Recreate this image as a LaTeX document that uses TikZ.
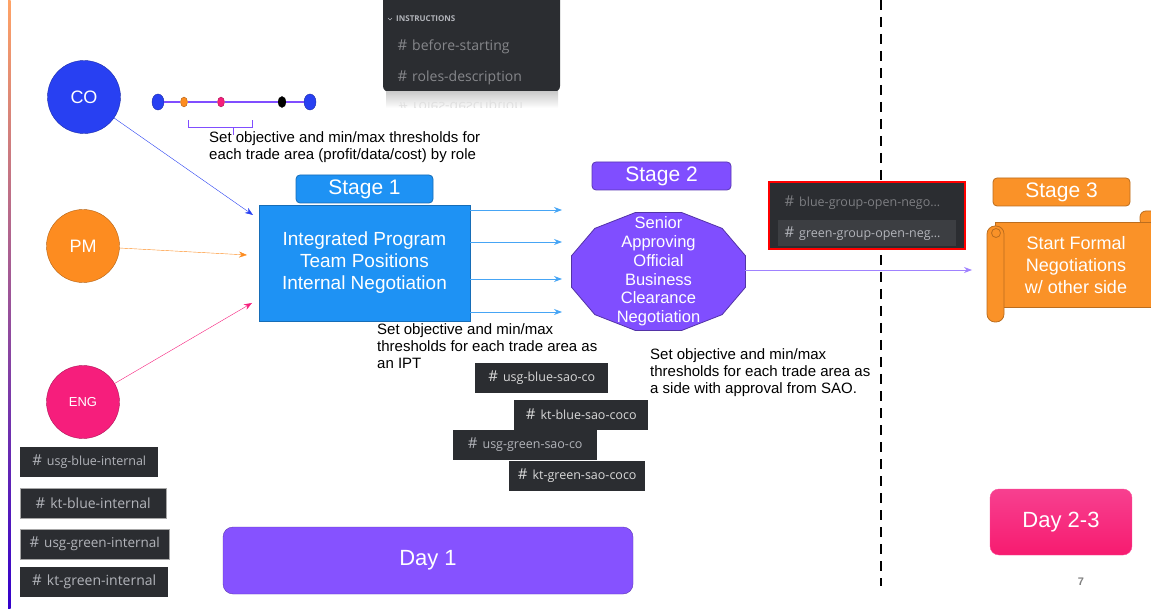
\documentclass[tikz,border=0pt]{standalone}
\usepackage{fontspec}
\setmainfont{Liberation Sans}
\newfontfamily\discord{Open Sans}
\usetikzlibrary{arrows.meta,shapes.geometric}

\definecolor{coblue}{RGB}{40,64,242}
\definecolor{pmorange}{RGB}{253,140,32}
\definecolor{engpink}{RGB}{246,30,124}
\definecolor{stblue}{RGB}{30,146,244}
\definecolor{stpurple}{RGB}{128,78,255}
\definecolor{storange}{RGB}{250,146,40}
\definecolor{dayviolet}{RGB}{134,82,255}
\definecolor{dark}{RGB}{43,45,49}
\definecolor{chan}{RGB}{178,180,186}
\definecolor{arrowblue}{RGB}{70,165,245}
\definecolor{arrowviolet}{RGB}{160,130,255}

\newcommand{\chanhash}{{\fontsize{15}{15}\selectfont\#}\hspace{5pt}}

\tikzset{
  role/.style={circle, minimum size=73pt, inner sep=0pt, text=white, draw=#1!70!black, fill=#1},
  dot/.style={ellipse, inner sep=0pt, fill=#1, draw=#1!70!black},
  stagelbl/.style={rounded corners=4pt, minimum height=28pt, text=white, line width=0.8pt,
    font=\fontsize{21}{24}\selectfont},
  chantag/.style={fill=dark, text=chan, anchor=west, minimum height=30pt, inner xsep=7pt,
    font=\discord\fontsize{12.5}{14}\selectfont},
  note/.style={align=left, anchor=north west, inner sep=0pt, font=\fontsize{15}{17}\selectfont},
}

\begin{document}
\begin{tikzpicture}[x=1pt,y=-1pt,>={Stealth[length=8pt,width=6pt]}]
  \useasboundingbox (0,0) rectangle (1151,609);
  \shade[top color=orange!80!red!60, bottom color=blue!60!violet] (8,0) rectangle (10.5,609);

  \node[role=coblue, font=\fontsize{18}{20}\selectfont] (co) at (84,97) {CO};
  \node[role=pmorange, font=\fontsize{18}{20}\selectfont] (pm) at (83,246) {PM};
  \node[role=engpink, font=\fontsize{13}{15}\selectfont] (eng) at (83,402) {ENG};

  \node[dot=coblue, minimum width=12pt, minimum height=16pt] (k1) at (158,102) {};
  \node[dot=pmorange, minimum width=7pt, minimum height=10pt] (k2) at (184,102) {};
  \node[dot=engpink, minimum width=7pt, minimum height=10pt] (k3) at (221,102) {};
  \node[dot=black, minimum width=8pt, minimum height=11pt] (k4) at (282,102) {};
  \node[dot=coblue, minimum width=12pt, minimum height=16pt] (k5) at (310,102) {};
  \draw[stpurple, line width=1.2pt] (k1) -- (k2);
  \draw[stpurple, line width=1.2pt] (k2) -- (k3);
  \draw[stpurple, line width=1.2pt] (k3) -- (k4);
  \draw[stpurple, line width=1.2pt] (k4) -- (k5);
  \draw[stpurple, line width=1pt] (188,120) -- (188,128) -- (252,128) -- (252,120);
  \draw[stpurple, line width=1pt] (233,128) -- (233,135);
  \node[note] (n1) at (209,131) {Set objective and min/max thresholds for\\each trade area (profit/data/cost) by role};

  \fill[dark, rounded corners=6pt] (383,-8) rectangle (560,92);
  \shade[top color=black!20, bottom color=white] (386,92) rectangle (558,108);
  \begin{scope}
    \clip (386,92) rectangle (558,108);
    \node[anchor=west, yscale=-1, transform shape, text=black!12, font=\discord\fontsize{14}{16}\selectfont] (rdm) at (395,106) {\chanhash roles-description};
  \end{scope}
  \draw[chan, line width=0.6pt] (388,18) -- (390,20) -- (392,18);
  \node[anchor=west, text=chan, inner sep=0pt, font=\discord\bfseries\fontsize{8}{9}\selectfont] (ins) at (396,19) {INSTRUCTIONS};
  \node[anchor=west, text=chan!75!black, font=\discord\fontsize{14}{16}\selectfont] (bs) at (394,47) {\chanhash before-starting};
  \node[anchor=west, text=chan!75!black, font=\discord\fontsize{14}{16}\selectfont] (rd) at (394,78) {\chanhash roles-description};

  \node[stagelbl, fill=stblue, draw=stblue!75!black, minimum width=137pt] (s1) at (364.5,189) {Stage 1};
  \node[fill=stblue, draw=stblue!75!black, line width=0.8pt, minimum width=211pt, minimum height=116pt,
    text=white, align=center, font=\fontsize{19}{22}\selectfont] (ipt) at (364.5,263) {Integrated Program\\Team Positions\\Internal Negotiation};

  \coordinate (inco) at (253,215);
  \coordinate (inpm) at (247,255);
  \coordinate (ineng) at (252,303);
  \draw[->, coblue] (co) -- (inco);
  \draw[->, pmorange] (pm) -- (inpm);
  \draw[->, engpink] (eng) -- (ineng);

  \foreach \yy [count=\i] in {210,242,279,312}{
    \coordinate (out\i) at (562,\yy);
    \draw[->, arrowblue, line width=0.8pt] (ipt.east |- out\i) -- (out\i);
  }
  \node[note] (n2) at (377,323) {Set objective and min/max\\thresholds for each trade area as\\an IPT};

  \node[chantag, text=white!85!black, minimum width=133pt] (ubs) at (475,378) {\chanhash usg-blue-sao-co};
  \node[chantag, text=white!85!black, minimum width=134pt] (kbs) at (514,414.5) {\chanhash kt-blue-sao-coco};
  \node[chantag, minimum width=144pt] (ugs) at (453,445) {\chanhash usg-green-sao-co};
  \node[chantag, text=white!85!black, minimum width=136pt] (kgs) at (509,475.5) {\chanhash kt-green-sao-coco};

  \node[stagelbl, fill=stpurple, draw=stpurple!70!black, minimum width=139pt] (s2) at (661.5,176) {Stage 2};
  \coordinate (saoc) at (658.5,271.5);
  \draw[fill=stpurple, draw=stpurple!65!black, line width=0.8pt, shift={(saoc)}]
    (15:90 and 61) \foreach \a in {45,75,...,345}{ -- (\a:90 and 61)} -- cycle;
  \node[text=white, align=center, minimum width=173pt, minimum height=117pt,
    font=\fontsize{16.5}{18.8}\selectfont] (sao) at (saoc) {Senior\\Approving\\Official\\Business\\Clearance\\Negotiation};
  \node[note] (n3) at (650,348) {Set objective and min/max\\thresholds for each trade area as\\a side with approval from SAO.};

  \draw[line width=2.5pt, dash pattern=on 10pt off 7pt] (881,0) -- (881,586);

  \coordinate (into3) at (972,270);
  \draw[->, arrowviolet, line width=0.8pt] (sao.east |- into3) -- (into3);

  \node[draw=red, line width=2.5pt, fill=dark, minimum width=196pt, minimum height=67pt] (grp) at (867,215.5) {};
  \fill[dark!92!white] (778,220) rectangle (956,246);
  \node[anchor=west, text=chan!70!black, font=\discord\fontsize{12.5}{14}\selectfont] (bgo) at (781,203) {\chanhash blue-group-open-nego\dots};
  \node[anchor=west, text=chan, font=\discord\fontsize{12.5}{14}\selectfont] (ggo) at (781,234) {\chanhash green-group-open-neg\dots};

  \node[stagelbl, fill=storange, draw=storange!75!black, minimum width=137pt] (s3) at (1061.5,192) {Stage 3};
  \draw[fill=storange, draw=storange!75!black, line width=0.8pt, rounded corners=6pt] (1140,226) rectangle (1158,211);
  \draw[fill=storange, draw=storange!75!black, line width=0.8pt] (995,222) rectangle (1160,307);
  \draw[fill=storange, draw=storange!75!black, line width=0.8pt, rounded corners=8pt] (987,226) rectangle (1004,322);
  \draw[fill=storange, draw=storange!75!black, line width=0.8pt] (996,233) circle (4.5pt);
  \node[text=white, align=center, font=\fontsize{18}{22}\selectfont] (formal) at (1076,265) {Start Formal\\Negotiations\\w/ other side};

  \node[chantag, minimum width=138pt] (ubi) at (20,462) {\chanhash usg-blue-internal};
  \node[chantag, draw=gray!70, minimum width=146pt, font=\discord\fontsize{14}{16}\selectfont] (kbi) at (20,503) {\chanhash kt-blue-internal};
  \node[chantag, draw=gray!70, minimum width=149pt, font=\discord\fontsize{13.5}{16}\selectfont] (ugi) at (20,544) {\chanhash usg-green-internal};
  \node[chantag, minimum width=148pt, font=\discord\fontsize{14}{16}\selectfont] (kgi) at (20,582) {\chanhash kt-green-internal};

  \node[fill=dayviolet, draw=dayviolet!70!black, rounded corners=10pt, minimum width=410pt, minimum height=67pt,
    text=white, font=\fontsize{22}{26}\selectfont] (day1) at (428,560.5) {Day 1};
  \node[top color=engpink!85!white, bottom color=engpink!90!red, draw=engpink!80!white, rounded corners=9pt,
    minimum width=142pt, minimum height=66pt, text=white, font=\fontsize{22}{26}\selectfont] (day23) at (1061,522) {Day 2-3};
  \node[text=gray, font=\bfseries\fontsize{11}{13}\selectfont] (pg) at (1081,582) {7};
\end{tikzpicture}
\end{document}
